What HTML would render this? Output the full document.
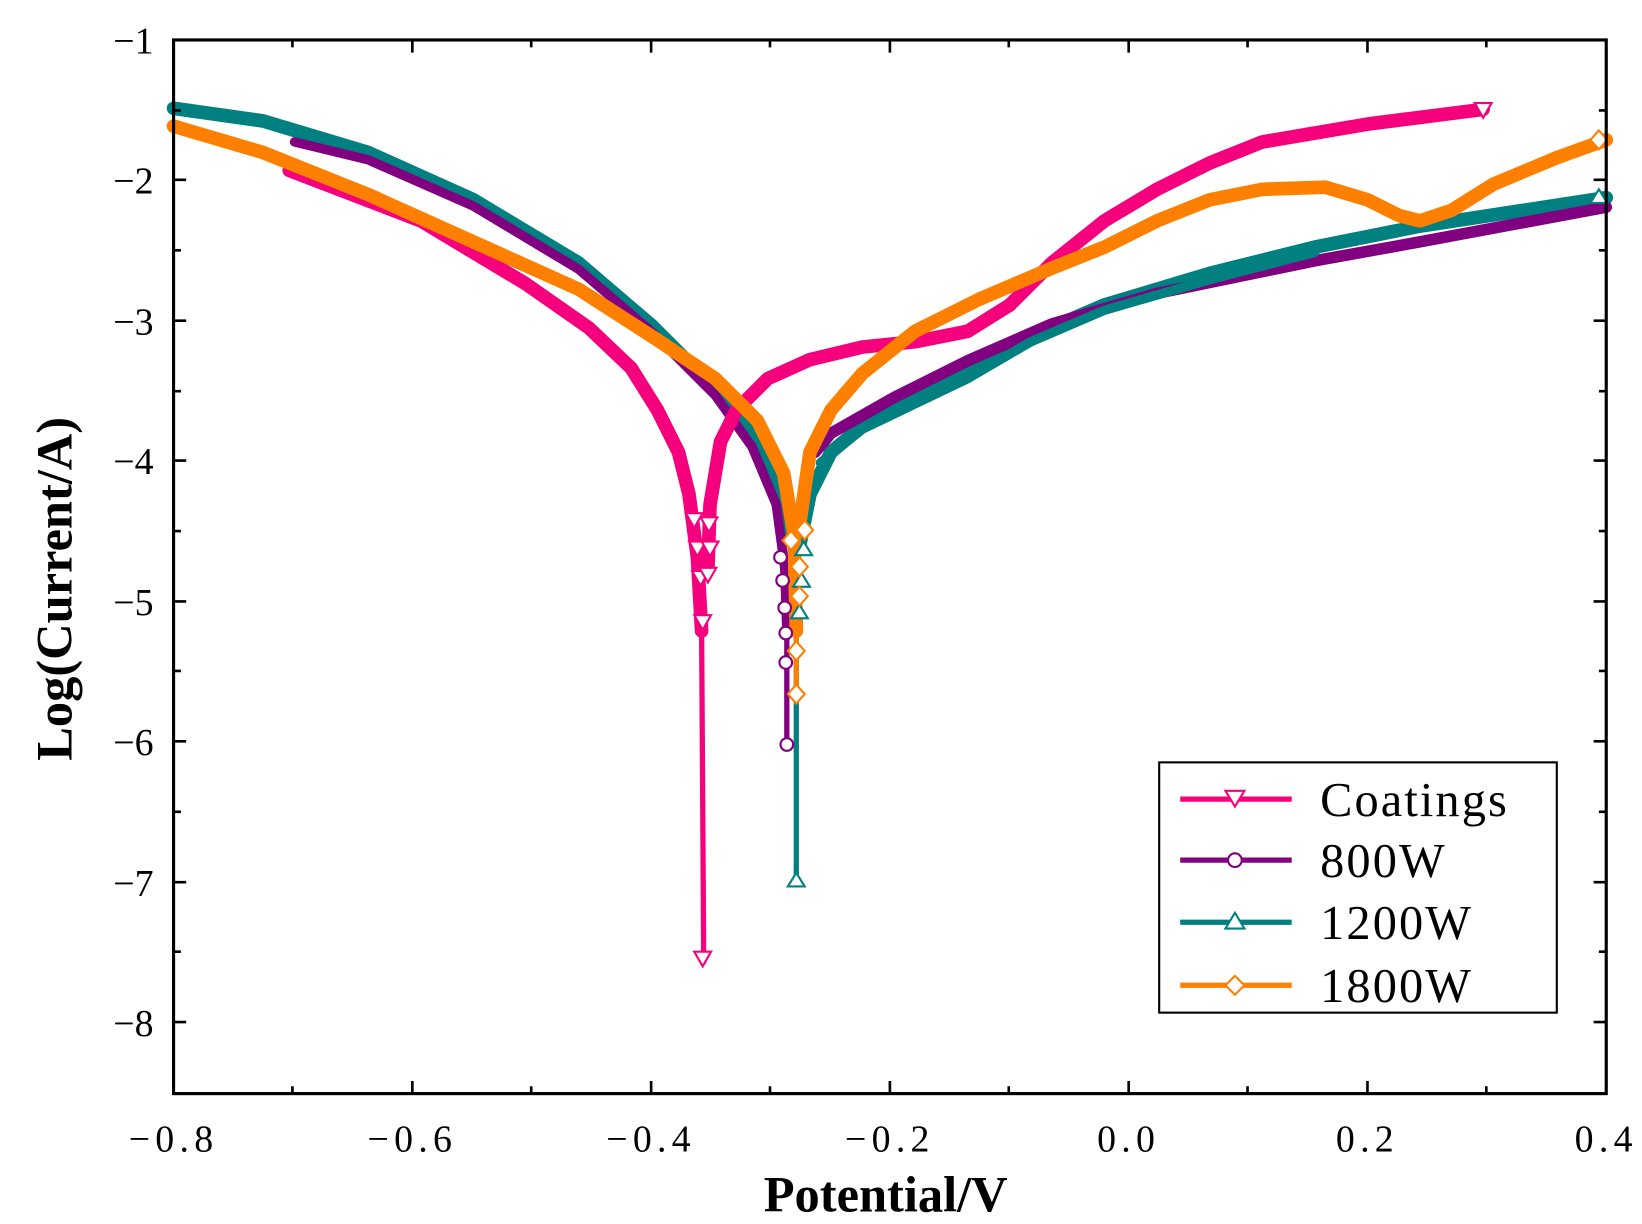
<!DOCTYPE html>
<html><head><meta charset="utf-8"><style>
html,body{margin:0;padding:0;background:#fff;}
svg{display:block;}
text{font-family:"Liberation Serif",serif;}
</style></head><body>
<svg width="1642" height="1224" viewBox="0 0 1561 1164" preserveAspectRatio="none" xmlns="http://www.w3.org/2000/svg">
<rect width="1561" height="1164" fill="#fff"/>
<g fill="none" stroke-linejoin="round" stroke-linecap="round">
<polyline stroke="#008080" stroke-width="13" points="165,103 250,115 350,145 450,190 550,250 620,310 680,370 720,420 745,470 755,520 757,600"/>
<polyline stroke="#008080" stroke-width="5" points="757,600 757,835"/>
<polyline stroke="#008080" stroke-width="13" points="760,520 770,470 790,430 820,405 870,380 920,355 980,320 1050,290 1150,260 1250,235 1350,215 1527,188"/>
<polyline stroke="#800080" stroke-width="9" points="280,135 350,152 450,196 550,256 620,316 680,376 715,425 738,480 746,540 748,600"/>
<polyline stroke="#800080" stroke-width="5" points="748,600 748,705"/>
<polyline stroke="#800080" stroke-width="11" points="775,430 790,412 850,378 920,343 1000,308 1100,279 1250,248 1350,230 1527,197"/>
<polyline stroke="#008080" stroke-width="9" points="780,440 820,408 870,384 920,360 980,325 1050,295 1150,266 1250,240"/>
<polyline stroke="#f5007d" stroke-width="13" points="275,162 400,210 500,270 560,312 600,350 625,390 645,430 655,470 663,530 667,600"/>
<polyline stroke="#f5007d" stroke-width="5" points="667,600 669,915"/>
<polyline stroke="#f5007d" stroke-width="13" points="673,540 675,480 685,420 700,390 730,360 770,342 820,330 870,325 920,315 960,290 1000,250 1050,210 1100,180 1150,155 1200,135 1300,118 1410,104"/>
<polyline stroke="#ff8000" stroke-width="13" points="165,120 250,145 350,185 450,230 550,275 620,320 680,360 720,400 745,450 755,510 757,600"/>
<polyline stroke="#ff8000" stroke-width="5" points="757,600 757,660"/>
<polyline stroke="#ff8000" stroke-width="13" points="760,500 770,430 790,390 820,355 870,315 930,285 1000,255 1050,235 1100,210 1150,190 1200,180 1260,178 1300,190 1330,205 1350,210 1380,200 1420,175 1480,150 1527,133"/>
</g>
<g fill="#fff" stroke-width="2">
<g stroke="#f5007d">
<path d="M660,905 h16 l-8,14 z"/><path d="M660,585 h16 l-8,14 z"/><path d="M658,543 h16 l-8,14 z"/><path d="M655,515 h16 l-8,14 z"/><path d="M665,540 h16 l-8,14 z"/><path d="M667,515 h16 l-8,14 z"/><path d="M666,492 h16 l-8,14 z"/><path d="M652,488 h16 l-8,14 z"/><path d="M1402,98 h16 l-8,14 z"/>
</g>
<g stroke="#800080">
<circle cx="748" cy="708" r="6"/><circle cx="747" cy="630" r="6"/><circle cx="747" cy="602" r="6"/><circle cx="746" cy="578" r="6"/><circle cx="744" cy="552" r="6"/><circle cx="742" cy="530" r="6"/>
</g>
<g stroke="#008080">
<path d="M757,830 l8,13 h-16 z"/><path d="M760,575 l8,13 h-16 z"/><path d="M762,545 l8,13 h-16 z"/><path d="M764,515 l8,13 h-16 z"/><path d="M1520,180 l8,13 h-16 z"/>
</g>
<g stroke="#ff8000">
<path d="M757,651 l8,9 l-8,9 l-8,-9 z"/><path d="M757,610 l8,9 l-8,9 l-8,-9 z"/><path d="M760,558 l8,9 l-8,9 l-8,-9 z"/><path d="M760,530 l8,9 l-8,9 l-8,-9 z"/><path d="M752,505 l8,9 l-8,9 l-8,-9 z"/><path d="M765,495 l8,9 l-8,9 l-8,-9 z"/><path d="M1520,124 l8,9 l-8,9 l-8,-9 z"/>
</g>
</g>
<rect x="165" y="38" width="1362" height="1002" fill="none" stroke="#000" stroke-width="3"/>
<g stroke="#000" stroke-width="2.5">
<path d="M165,1040v-12M278,1040v-7M392,1040v-12M505,1040v-7M619,1040v-12M732,1040v-7M846,1040v-12M959,1040v-7M1073,1040v-12M1186,1040v-7M1300,1040v-12M1413,1040v-7"/>
<path d="M165,38v12M278,38v7M392,38v12M505,38v7M619,38v12M732,38v7M846,38v12M959,38v7M1073,38v12M1186,38v7M1300,38v12M1413,38v7"/>
<path d="M165,38h12M165,105h7M165,171h12M165,238h7M165,305h12M165,372h7M165,438h12M165,505h7M165,572h12M165,638h7M165,705h12M165,772h7M165,839h12M165,905h7M165,972h12"/>
<path d="M1527,38h-12M1527,105h-7M1527,171h-12M1527,238h-7M1527,305h-12M1527,372h-7M1527,438h-12M1527,505h-7M1527,572h-12M1527,638h-7M1527,705h-12M1527,772h-7M1527,839h-12M1527,905h-7M1527,972h-12"/>
</g>
<g font-size="36" text-anchor="end">
<text x="146" y="51">−1</text><text x="146" y="184">−2</text><text x="146" y="318">−3</text><text x="146" y="451">−4</text><text x="146" y="585">−5</text><text x="146" y="718">−6</text><text x="146" y="852">−7</text><text x="146" y="985">−8</text>
</g>
<g font-size="36" text-anchor="middle" letter-spacing="5">
<text x="165" y="1095">−0.8</text><text x="392" y="1095">−0.6</text><text x="619" y="1095">−0.4</text><text x="846" y="1095">−0.2</text><text x="1073" y="1095">0.0</text><text x="1300" y="1095">0.2</text><text x="1527" y="1095">0.4</text>
</g>
<text x="842" y="1152" font-size="48" font-weight="bold" text-anchor="middle">Potential/V</text>
<text transform="translate(68,560) rotate(-90)" font-size="48" font-weight="bold" text-anchor="middle">Log(Current/A)</text>
<rect x="1102" y="725" width="378" height="238" fill="#fff" stroke="#000" stroke-width="2"/>
<g stroke-width="5">
<path d="M1122,760h106" stroke="#f5007d"/><path d="M1122,818h106" stroke="#800080"/><path d="M1122,877h106" stroke="#008080"/><path d="M1122,937h106" stroke="#ff8000"/>
</g>
<g fill="#fff" stroke-width="2">
<path d="M1165,752 h18 l-9,15 z" stroke="#f5007d"/>
<circle cx="1174" cy="818" r="6.5" stroke="#800080"/>
<path d="M1174,868 l9,15 h-18 z" stroke="#008080"/>
<path d="M1174,928 l9,9 l-9,9 l-9,-9 z" stroke="#ff8000"/>
</g>
<g font-size="46" letter-spacing="2">
<text x="1255" y="776">Coatings</text><text x="1255" y="834">800W</text><text x="1255" y="893">1200W</text><text x="1255" y="953">1800W</text>
</g>
</svg>
</body></html>
